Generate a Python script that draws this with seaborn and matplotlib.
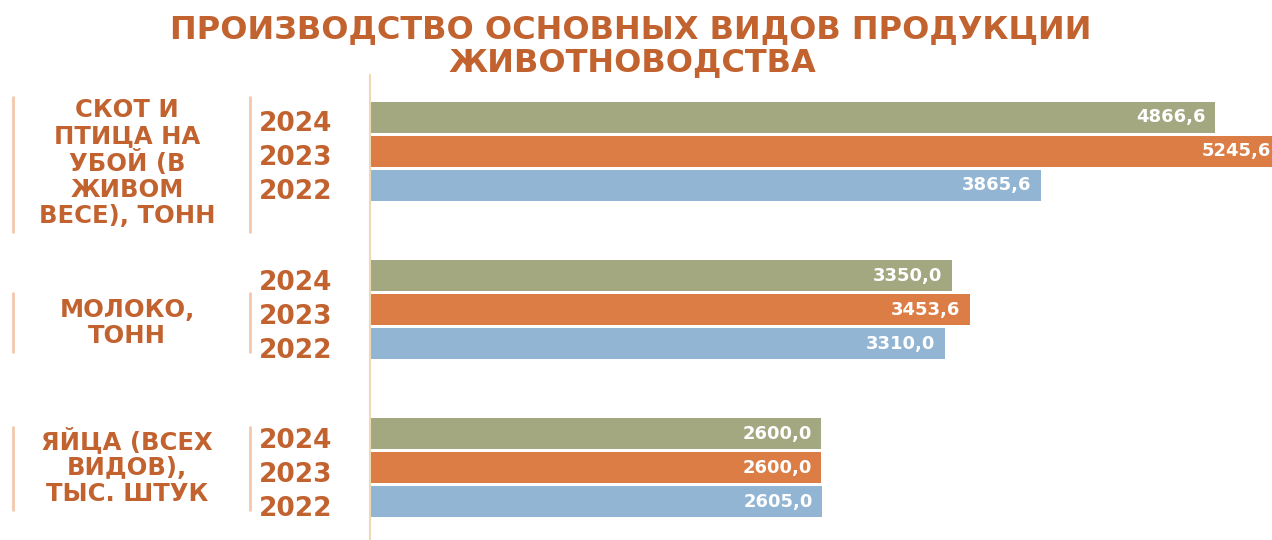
import pandas as pd
import seaborn as sns
import matplotlib.pyplot as plt
from matplotlib.lines import Line2D
from matplotlib.transforms import ScaledTranslation

# data
categories = ["СКОТ И\nПТИЦА НА\nУБОЙ (В\nЖИВОМ\nВЕСЕ), ТОНН",
              "МОЛОКО,\nТОНН",
              "ЯЙЦА (ВСЕХ\nВИДОВ),\nТЫС. ШТУК"]
years = ["2024", "2023", "2022"]
values_2024 = [4866.6, 3350.0, 2600.0]
values_2023 = [5245.6, 3453.6, 2600.0]
values_2022 = [3865.6, 3310.0, 2605.0]
title_lines = ["ПРОИЗВОДСТВО ОСНОВНЫХ ВИДОВ ПРОДУКЦИИ", "ЖИВОТНОВОДСТВА"]

# style
palette = {"2024": "#A3A880", "2023": "#DB7D45", "2022": "#93B5D4"}
text_color = "#C1622F"
bracket_color = "#F3C8AC"
group_gap = 4.65

rows = []
for g, cat in enumerate(categories):
    for i, (year, vals) in enumerate(zip(years, [values_2024, values_2023, values_2022])):
        rows.append({"category": cat, "year": year, "value": vals[g], "pos": g * group_gap + i})
df = pd.DataFrame(rows)

sns.set_theme(style="white")
plt.rcParams["font.family"] = ["DejaVu Sans"]

W, H = 1272, 540
fig = plt.figure(figsize=(W / 100, H / 100), dpi=100)

x0 = 370
px_per_unit = (1215 - x0) / 4866.6
xmax = 5250
ax = fig.add_axes([x0 / W, 0, xmax * px_per_unit / W, 465 / H])

sns.barplot(data=df, x="value", y="pos", hue="year", hue_order=years, palette=palette,
            orient="h", native_scale=True, dodge=False, width=0.9, linewidth=0,
            saturation=1, legend=False, ax=ax)

ax.set_xlim(0, xmax)
ax.set_ylim(12.43, -1.25)
ax.set_xticks([])
ax.set_xlabel("")
ax.set_ylabel("")

# years as y tick labels
ax.set_yticks(df["pos"], labels=df["year"])
ax.tick_params(axis="y", length=0, pad=27, labelsize=19, labelcolor=text_color)
shift = ScaledTranslation(0, -4 / 100, fig.dpi_scale_trans)
for lbl in ax.get_yticklabels():
    lbl.set_fontweight("bold")
    lbl.set_transform(lbl.get_transform() + shift)

for side in ["top", "right", "bottom"]:
    ax.spines[side].set_visible(False)
ax.spines["left"].set_color("#EED9B5")
ax.spines["left"].set_linewidth(1.5)

# value labels
for _, r in df.iterrows():
    ax.annotate(f"{r['value']:.1f}".replace(".", ","), (r["value"], r["pos"]),
                xytext=(-7, 0), textcoords="offset points", ha="right", va="center",
                color="white", fontweight="bold", fontsize=13, annotation_clip=False)

# category labels with side brackets
label_y = [163, 323, 467]
bracket_span = [(97, 232), (293, 352), (427, 510)]
for cat, ly, (b1, b2) in zip(categories, label_y, bracket_span):
    fig.text(127 / W, 1 - ly / H, cat, ha="center", va="center", fontsize=17.5,
             fontweight="bold", color=text_color, linespacing=1.1)
    for bx in [13, 250]:
        fig.add_artist(Line2D([bx / W, bx / W], [1 - b1 / H, 1 - b2 / H],
                              transform=fig.transFigure, color=bracket_color, lw=2))

# title
fig.text(631 / W, 1 - 30 / H, title_lines[0], ha="center", va="center",
         fontsize=23, fontweight="bold", color=text_color)
fig.text(632 / W, 1 - 63 / H, title_lines[1], ha="center", va="center",
         fontsize=23, fontweight="bold", color=text_color)

fig.savefig("out.png", dpi=100)
